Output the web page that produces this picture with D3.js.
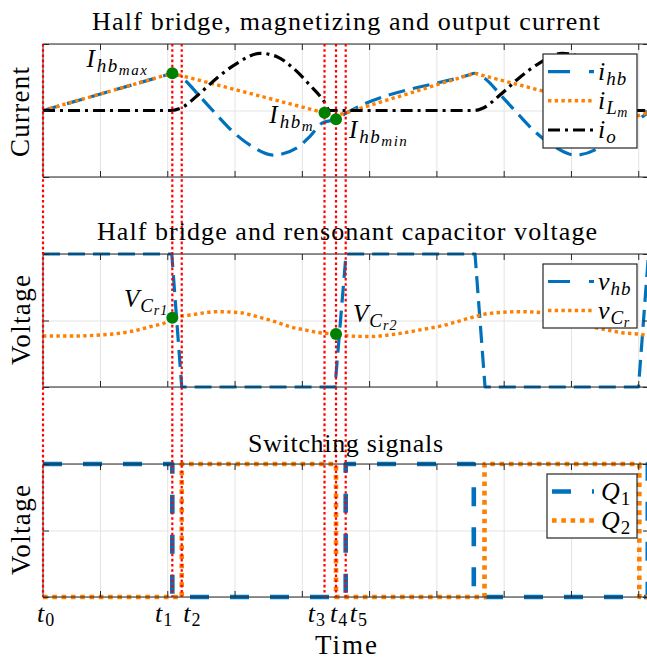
<!DOCTYPE html>
<html>
<head>
<meta charset="utf-8">
<script src="https://cdn.jsdelivr.net/npm/d3@7/dist/d3.min.js"></script>
<style>
  html, body { margin: 0; padding: 0; background: #fff; }
  svg { display: block; }
  text { font-family: "Liberation Serif", "Times New Roman", serif; fill: #000; }
</style>
</head>
<body>
<svg id="chart" width="647" height="660"></svg>
<script>
// ---- time axis (µs) ----
const timeDomain = [0.153, 9.16];
const timeTicks = [1, 2, 3, 4, 5, 6, 7, 8, 9];

// switching instants t0..t5
const instantNames = ["0", "1", "2", "3", "4", "5"];
const instantTimes = [0.153, 2.075, 2.215, 4.337, 4.508, 4.652];

// ---- currents (normalised) ----
const iLmTime  = [0.153, 2.075, 4.508, 6.565, 8.998, 9.32];
const iLmValue = [0, 0.56, -0.08, 0.56, -0.08, 0.02];

const iHbTime  = [0.153, 2.0, 2.075, 2.219, 2.486, 2.739, 2.977, 3.230, 3.572, 3.928, 4.121, 4.300, 4.508, 4.657,
                  6.49, 6.565, 6.709, 6.976, 7.229, 7.467, 7.720, 8.062, 8.418, 8.611, 8.790, 8.998, 9.147, 9.32];
const iHbValue = [0, 0.538, 0.56, 0.49, 0.21, -0.07, -0.32, -0.52, -0.67, -0.56, -0.39, -0.19, -0.13, -0.04,
                  0.537, 0.56, 0.49, 0.21, -0.07, -0.32, -0.52, -0.67, -0.56, -0.39, -0.19, -0.13, -0.04, 0.02];

const ioTime  = [0.153, 2.075, 2.189, 2.486, 2.739, 3.036, 3.378, 3.631, 3.869, 4.121, 4.315, 4.419,
                 6.565, 6.679, 6.976, 7.229, 7.526, 7.868, 8.121, 8.359, 8.611, 8.805, 8.909, 9.32];
const ioValue = [0, 0, 0.03, 0.26, 0.49, 0.71, 0.86, 0.81, 0.64, 0.38, 0.16, 0,
                 0, 0.03, 0.26, 0.49, 0.71, 0.86, 0.81, 0.64, 0.38, 0.16, 0, 0];

// marked current values: I_hb,max , I_hb,m , I_hb,min
const currentMarkTime  = [2.075, 4.337, 4.508];
const currentMarkValue = [0.56, -0.035, -0.13];

// ---- voltages (normalised to the bus) ----
const vHbTime  = [0.153, 2.067, 2.215, 4.493, 4.657, 6.574, 6.723, 9.004, 9.153, 9.32];
const vHbValue = [1, 1, 0, 0, 1, 1, 0, 0, 1, 1];

const vCrTime  = [0.153, 0.554, 1.0, 1.446, 1.743, 1.996, 2.075, 2.338, 2.739, 3.081, 3.334, 3.602, 3.824, 4.047,
                  4.270, 4.508, 4.716, 5.013, 5.459, 5.756, 6.127, 6.499, 6.797, 7.243, 7.570, 7.822, 8.090,
                  8.313, 8.536, 8.759, 8.997, 9.205, 9.32];
const vCrValue = [0.383, 0.383, 0.391, 0.416, 0.453, 0.491, 0.521, 0.541, 0.566, 0.559, 0.529, 0.491, 0.453, 0.429,
                  0.408, 0.398, 0.383, 0.380, 0.403, 0.429, 0.466, 0.519, 0.554, 0.566, 0.559, 0.529, 0.491,
                  0.453, 0.429, 0.408, 0.398, 0.383, 0.38];

// marked capacitor voltages: V_Cr1 , V_Cr2
const voltageMarkTime  = [2.075, 4.508];
const voltageMarkValue = [0.521, 0.398];

// ---- gate signals ----
const q1Time  = [0.153, 2.075, 2.075, 4.652, 4.652, 6.556, 6.556, 9.142, 9.142, 9.32];
const q1Value = [1, 1, 0, 0, 1, 1, 0, 0, 1, 1];
const q2Time  = [0.153, 2.215, 2.215, 4.508, 4.508, 6.715, 6.715, 9.016, 9.016, 9.32];
const q2Value = [0, 0, 1, 1, 0, 0, 1, 1, 0, 0];

// ---------------------------------------------------------------
const BLUE = "#0072BD", ORANGE = "#FF8000", RED = "#FF0000", GREEN = "#008000", AX = "#262626";
const svg = d3.select("#chart");
const X0 = 43, X1 = 649;
const x = d3.scaleLinear().domain(timeDomain).range([X0, X1]);

const panels = [
  { top: 44,  bottom: 177, dom: [-1, 1], yt: [-1, 0, 1] },
  { top: 254, bottom: 387, dom: [0, 1],  yt: [0, 0.5, 1] },
  { top: 464, bottom: 597, dom: [0, 1],  yt: [0, 0.5, 1] }
];
panels.forEach(p => { p.y = d3.scaleLinear().domain(p.dom).range([p.bottom, p.top]); });

// italic symbol with (sub)subscripts, built from tspans
function mathText(g, px, py, anchor, parts) {
  const t = g.append("text").attr("x", px).attr("y", py).attr("text-anchor", anchor);
  parts.forEach(pt => {
    t.append("tspan")
      .attr("font-size", pt.s)
      .attr("font-style", pt.up ? "normal" : "italic")
      .attr("letter-spacing", pt.ls == null ? 1 : pt.ls)
      .attr("dy", pt.dy || 0)
      .text(pt.t);
  });
  return t;
}

const layerGrid = svg.append("g");
const layerData = svg.append("g");
const layerFrame = svg.append("g");
const layerRed = svg.append("g");
const layerMarks = svg.append("g");
const layerLegend = svg.append("g");
const layerText = svg.append("g");

// axes background, grid, frame and ticks
panels.forEach(p => {
  const h = p.bottom - p.top;
  const gx = layerGrid.append("g").attr("transform", `translate(0,${p.bottom})`)
    .call(d3.axisBottom(x).tickValues(timeTicks).tickSize(-h).tickFormat(""));
  const gy = layerGrid.append("g").attr("transform", `translate(${X0},0)`)
    .call(d3.axisLeft(p.y).tickValues(p.yt).tickSize(-(X1 - X0)).tickFormat(""));
  [gx, gy].forEach(g => {
    g.select(".domain").remove();
    g.selectAll("line").attr("stroke", "#e3e3e3").attr("stroke-width", 1);
  });

  layerFrame.append("rect")
    .attr("x", X0).attr("y", p.top).attr("width", X1 - X0).attr("height", h)
    .attr("fill", "none").attr("stroke", AX).attr("stroke-width", 1);

  const tk = [
    layerFrame.append("g").attr("transform", `translate(0,${p.bottom})`).call(d3.axisTop(x).tickValues(timeTicks).tickSize(6).tickFormat("")),
    layerFrame.append("g").attr("transform", `translate(0,${p.top})`).call(d3.axisBottom(x).tickValues(timeTicks).tickSize(6).tickFormat("")),
    layerFrame.append("g").attr("transform", `translate(${X0},0)`).call(d3.axisRight(p.y).tickValues(p.yt).tickSize(6).tickFormat("")),
    layerFrame.append("g").attr("transform", `translate(${X1},0)`).call(d3.axisLeft(p.y).tickValues(p.yt).tickSize(6).tickFormat(""))
  ];
  tk.forEach(g => {
    g.select(".domain").remove();
    g.selectAll("line").attr("stroke", AX).attr("stroke-width", 1);
  });
});

function drawSeries(p, times, values, curve, style) {
  const gen = d3.line().x(d => x(d[0])).y(d => p.y(d[1])).curve(curve);
  layerData.append("path")
    .datum(d3.zip(times, values))
    .attr("d", gen)
    .attr("fill", "none")
    .attr("stroke", style.color)
    .attr("stroke-width", style.w)
    .attr("stroke-dasharray", style.dash)
    .attr("stroke-linejoin", "round");
}

const st = {
  hb:  { color: BLUE,   w: 3.2, dash: "17,8" },
  lm:  { color: ORANGE, w: 3.4, dash: "3.4,3.3" },
  io:  { color: "#000", w: 3.2, dash: "12,5,3,5" },
  q1:  { color: BLUE,   w: 4.6, dash: "19,21" },
  q2:  { color: ORANGE, w: 4.6, dash: "4.6,4.7" }
};

// panel 1: currents
const P1 = panels[0], P2 = panels[1], P3 = panels[2];
drawSeries(P1, iHbTime, iHbValue, d3.curveMonotoneX, st.hb);
drawSeries(P1, iLmTime, iLmValue, d3.curveLinear, st.lm);
drawSeries(P1, ioTime, ioValue, d3.curveMonotoneX, st.io);

// panel 2: voltages
drawSeries(P2, vHbTime, vHbValue, d3.curveLinear, st.hb);
drawSeries(P2, vCrTime, vCrValue, d3.curveMonotoneX, st.lm);

// panel 3: gate signals
drawSeries(P3, q1Time, q1Value, d3.curveLinear, st.q1);
drawSeries(P3, q2Time, q2Value, d3.curveLinear, st.q2);

// switching instants
instantTimes.forEach(t => {
  layerRed.append("line")
    .attr("x1", x(t)).attr("x2", x(t))
    .attr("y1", P1.top).attr("y2", P3.bottom)
    .attr("stroke", RED).attr("stroke-width", 2.2).attr("stroke-dasharray", "2.6,2.6");
});

// marked points
currentMarkTime.forEach((t, i) => {
  layerMarks.append("circle").attr("cx", x(t)).attr("cy", P1.y(currentMarkValue[i])).attr("r", 6).attr("fill", GREEN);
});
voltageMarkTime.forEach((t, i) => {
  layerMarks.append("circle").attr("cx", x(t)).attr("cy", P2.y(voltageMarkValue[i])).attr("r", 6).attr("fill", GREEN);
});

// point labels
const cm = currentMarkTime.map((t, i) => [x(t), P1.y(currentMarkValue[i])]);
const vm = voltageMarkTime.map((t, i) => [x(t), P2.y(voltageMarkValue[i])]);
mathText(layerText, cm[0][0] - 24, cm[0][1] - 6, "end",
  [{ t: "I", s: 25, ls: 2 }, { t: "hb", s: 19, dy: 5, ls: 1.5 }, { t: "max", s: 15, dy: 3, ls: 1.5 }]);
mathText(layerText, cm[1][0] - 12, cm[1][1] + 10.5, "end",
  [{ t: "I", s: 25, ls: 2 }, { t: "hb", s: 19, dy: 5, ls: 1.5 }, { t: "m", s: 15, dy: 3, ls: 0 }]);
mathText(layerText, cm[2][0] + 13, cm[2][1] + 19, "start",
  [{ t: "I", s: 25, ls: 2 }, { t: "hb", s: 19, dy: 5, ls: 1.5 }, { t: "min", s: 15, dy: 3, ls: 1.5 }]);
mathText(layerText, vm[0][0] - 4, vm[0][1] - 11, "end",
  [{ t: "V", s: 25, ls: 1 }, { t: "C", s: 19, dy: 5, ls: 1 }, { t: "r1", s: 14, dy: 3, ls: 1 }]);
mathText(layerText, vm[1][0] + 17, vm[1][1] - 12, "start",
  [{ t: "V", s: 25, ls: 1 }, { t: "C", s: 19, dy: 5, ls: 1 }, { t: "r2", s: 14, dy: 3, ls: 1 }]);

// instant labels along the time axis
const instantAnchor = ["start", "end", "start", "end", "start", "start"];
const instantShift = [-6, 0, 1.5, 0.5, -6, 4];
instantTimes.forEach((t, i) => {
  mathText(layerText, x(t) + instantShift[i], 621.5, instantAnchor[i],
    [{ t: "t", s: 26, ls: 1 }, { t: instantNames[i], s: 18, dy: 4, up: true, ls: 0 }]);
});

// titles and axis labels
function plainText(str, px, py, size, len, rotate) {
  const t = layerText.append("text").attr("font-size", size).attr("text-anchor", "middle")
    .attr("textLength", len).attr("lengthAdjust", "spacing").text(str);
  if (rotate) t.attr("transform", `translate(${px},${py}) rotate(-90)`);
  else t.attr("x", px).attr("y", py);
  return t;
}
plainText("Half bridge, magnetizing and output current", 346, 30, 26, 508);
plainText("Half bridge and rensonant capacitor voltage", 347, 240, 26, 500);
plainText("Switching signals", 345.5, 451.5, 26, 195);
plainText("Current", 28.5, 112, 27, 90, true);
plainText("Voltage", 29.5, 320, 27, 90, true);
plainText("Voltage", 29.5, 530, 27, 90, true);
plainText("Time", 346, 654, 27, 62);

// legends
function legend(x0, y0, x1, y1, rows) {
  layerLegend.append("rect").attr("x", x0).attr("y", y0).attr("width", x1 - x0).attr("height", y1 - y0)
    .attr("fill", "#fff").attr("stroke", AX).attr("stroke-width", 1.2);
  rows.forEach(r => {
    layerLegend.append("line").attr("x1", r.lx0).attr("x2", r.lx1).attr("y1", r.y).attr("y2", r.y)
      .attr("stroke", r.style.color).attr("stroke-width", r.style.w).attr("stroke-dasharray", r.dash || r.style.dash);
    mathText(layerLegend, r.tx, r.y + 8, "start", r.label);
  });
}
legend(543, 54, 637, 148, [
  { y: 71.7, lx0: 548, lx1: 594, tx: 598, style: st.hb, dash: "22,19",
    label: [{ t: "i", s: 26, ls: 1 }, { t: "hb", s: 19, dy: 5, ls: 1 }] },
  { y: 100.7, lx0: 548, lx1: 594, tx: 598, style: st.lm,
    label: [{ t: "i", s: 26, ls: 1 }, { t: "L", s: 19, dy: 5, ls: 0.5 }, { t: "m", s: 14, dy: 3, ls: 0 }] },
  { y: 130, lx0: 548, lx1: 594, tx: 598, style: st.io,
    label: [{ t: "i", s: 26, ls: 1 }, { t: "o", s: 19, dy: 5, ls: 0 }] }
]);
legend(543, 264, 637, 328, [
  { y: 281.5, lx0: 548, lx1: 594, tx: 598, style: st.hb, dash: "22,19",
    label: [{ t: "v", s: 26, ls: 1 }, { t: "hb", s: 19, dy: 5, ls: 1 }] },
  { y: 310.5, lx0: 548, lx1: 594, tx: 598, style: st.lm,
    label: [{ t: "v", s: 26, ls: 1 }, { t: "C", s: 19, dy: 5, ls: 0.5 }, { t: "r", s: 14, dy: 3, ls: 0 }] }
]);
legend(547, 474, 637, 538, [
  { y: 491.5, lx0: 552, lx1: 594, tx: 601, style: st.q1,
    label: [{ t: "Q", s: 26, ls: 1 }, { t: "1", s: 19, dy: 5, up: true, ls: 0 }] },
  { y: 520.5, lx0: 552, lx1: 594, tx: 601, style: st.q2,
    label: [{ t: "Q", s: 26, ls: 1 }, { t: "2", s: 19, dy: 5, up: true, ls: 0 }] }
]);
</script>
</body>
</html>
